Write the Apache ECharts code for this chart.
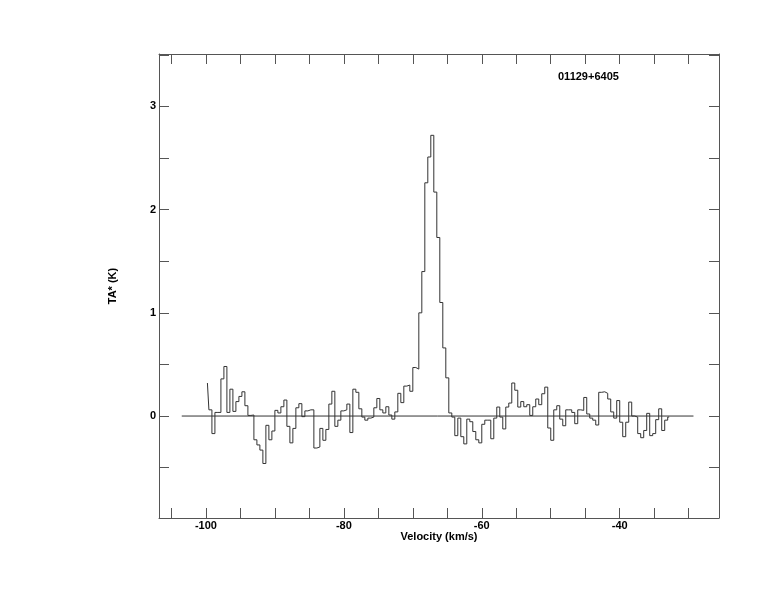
<!DOCTYPE html>
<html>
<head>
<meta charset="utf-8">
<script src="https://cdn.jsdelivr.net/npm/echarts@6/dist/echarts.min.js"></script>
<style>
html,body{margin:0;padding:0;background:#fff;}
#chart{width:774px;height:612px;}
</style>
</head>
<body>
<div id="chart"></div>
<script>
// Source title
const sourceName = '01129+6405';
// Channel grid: first channel centre velocity and channel width (km/s)
const firstChannelVelocity = -99.78;
const channelWidth = 0.4348;
// Antenna temperature per channel (K)
const antennaTemp = [
  0.32, 0.06, -0.17, 0.035, 0.035, 0.36, 0.48, 0.035, 0.26, 0.045,
  0.14, 0.19, 0.235, 0.10, 0.006, 0.01, -0.23, -0.28, -0.33, -0.46,
  -0.09, -0.23, -0.145, 0.055, 0.03, 0.09, 0.155, -0.10, -0.26, -0.12,
  0.08, 0.12, -0.006, 0.05, 0.06, 0.06, -0.31, -0.30, -0.12, -0.235,
  -0.13, 0.116, 0.24, -0.10, -0.04, 0.05, 0.06, 0.116, -0.16, 0.26,
  0.23, 0.07, -0.01, -0.04, -0.02, -0.01, 0.08, 0.17, 0.06, 0.03,
  0.09, 0.01, -0.03, 0.04, 0.22, 0.13, 0.29, 0.30, 0.24, 0.47,
  0.455, 1.0, 1.40, 2.26, 2.51, 2.72, 2.17, 1.73, 1.10, 0.66,
  0.37, 0.03, -0.01, -0.19, -0.02, -0.20, -0.27, -0.03, -0.055, -0.15,
  -0.23, -0.26, -0.08, -0.04, -0.04, -0.22, -0.02, 0.087, -0.01, -0.125,
  0.087, 0.126, 0.32, 0.25, 0.087, 0.14, 0.09, 0.11, 0.006, 0.09,
  0.165, 0.11, 0.216, 0.28, -0.116, -0.235, 0.06, 0.10, -0.03, -0.094,
  0.06, 0.06, 0.035, -0.074, 0.06, 0.055, 0.18, 0.02, -0.02, -0.04,
  -0.087, 0.23, 0.235, 0.22, 0.165, 0.04, -0.02, 0.15, -0.06, -0.20,
  -0.06, 0.135, 0.0, -0.01, -0.17, -0.21, -0.14, 0.026, -0.19, -0.17,
  -0.035, 0.07, -0.14, -0.04, -0.01
];
// Baseline extent (km/s)
const baselineVelocity = [-103.5, -29.3];
const baselineLevel = [0, 0];
// Axis ticks / labels
const xTickValues = [-105, -100, -95, -90, -85, -80, -75, -70, -65, -60, -55, -50, -45, -40, -35, -30];
const xLabelValues = [-100, -80, -60, -40];
const yTickValues = [-0.5, 0, 0.5, 1, 1.5, 2, 2.5, 3, 3.5];
const yLabelValues = [0, 1, 2, 3];

const spectrum = antennaTemp.map((t, i) => [firstChannelVelocity + i * channelWidth, t]);
const baseline = baselineVelocity.map((v, i) => [v, baselineLevel[i]]);

const FONT = "'Liberation Sans', Arial, sans-serif";
const AX = '#555';
const labelStyle = { color: '#000', fontFamily: FONT, fontSize: 11, fontWeight: 'bold' };
const X_MIN = -106.8, X_MAX = -25.6, Y_MIN = -0.988, Y_MAX = 3.508;

const chart = echarts.init(document.getElementById('chart'), null, { renderer: 'canvas' });
chart.setOption({
  animation: false,
  backgroundColor: '#fff',
  title: {
    text: sourceName,
    left: 553, top: 66,
    textStyle: { color: '#000', fontFamily: FONT, fontSize: 11, fontWeight: 'bold' }
  },
  grid: { left: 159, right: 55, top: 54, bottom: 94, containLabel: false },
  xAxis: [
    {
      type: 'value', min: X_MIN, max: X_MAX, position: 'bottom',
      name: 'Velocity (km/s)', nameLocation: 'middle', nameGap: 13, nameMoveOverlap: false,
      nameTextStyle: labelStyle,
      axisLine: { show: true, onZero: false, lineStyle: { color: AX, width: 1 } },
      axisTick: { show: true, inside: true, length: 10, customValues: xTickValues, lineStyle: { color: AX } },
      axisLabel: Object.assign({ show: true, margin: 2, customValues: xLabelValues }, labelStyle),
      splitLine: { show: false }
    },
    {
      type: 'value', min: X_MIN, max: X_MAX, position: 'top',
      axisLine: { show: true, onZero: false, lineStyle: { color: AX, width: 1 } },
      axisTick: { show: true, inside: true, length: 10, customValues: xTickValues, lineStyle: { color: AX } },
      axisLabel: { show: false },
      splitLine: { show: false }
    }
  ],
  yAxis: [
    {
      type: 'value', min: Y_MIN, max: Y_MAX, position: 'left',
      name: 'TA* (K)', nameLocation: 'middle', nameGap: 41, nameRotate: 90, nameMoveOverlap: false,
      nameTextStyle: labelStyle,
      axisLine: { show: true, onZero: false, lineStyle: { color: AX, width: 1 } },
      axisTick: { show: true, inside: true, length: 10, customValues: yTickValues, lineStyle: { color: AX } },
      axisLabel: Object.assign({ show: true, margin: 3, customValues: yLabelValues }, labelStyle),
      splitLine: { show: false }
    },
    {
      type: 'value', min: Y_MIN, max: Y_MAX, position: 'right',
      axisLine: { show: true, onZero: false, lineStyle: { color: AX, width: 1 } },
      axisTick: { show: true, inside: true, length: 10, customValues: yTickValues, lineStyle: { color: AX } },
      axisLabel: { show: false },
      splitLine: { show: false }
    }
  ],
  series: [
    {
      type: 'line', data: baseline, xAxisIndex: 0, yAxisIndex: 0,
      showSymbol: false, lineStyle: { color: '#333', width: 1 }, silent: true
    },
    {
      type: 'line', data: spectrum, xAxisIndex: 0, yAxisIndex: 0, step: 'middle',
      showSymbol: false, lineStyle: { color: '#333', width: 1 }, silent: true
    }
  ]
});
</script>
</body>
</html>
